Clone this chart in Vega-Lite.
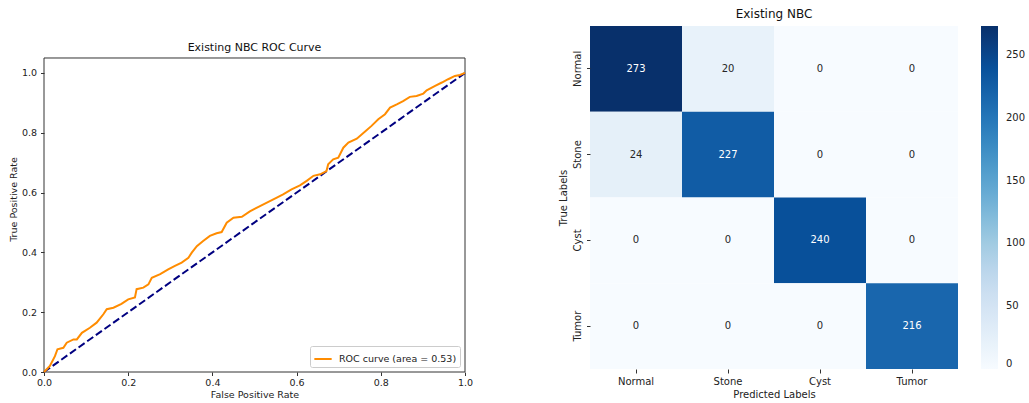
{
  "$schema": "https://vega.github.io/schema/vega-lite/v6.json",
  "padding": {"left": 8, "top": 8, "right": 4, "bottom": 2},
  "background": "white",
  "config": {
    "font": "DejaVu Sans",
    "axis": {"grid": false, "labelColor": "#222", "titleColor": "#222", "titleFontWeight": "normal", "tickColor": "#333", "domainColor": "#333"},
    "title": {"fontWeight": "normal", "color": "#111", "frame": "group"}
  },
  "spacing": 85,
  "hconcat": [
    {
      "width": 421,
      "height": 346,
      "view": {"stroke": null},
      "title": {"text": "Existing NBC ROC Curve", "fontSize": 11, "offset": -27},
      "layer": [
        {
          "data": {"values": [{}]},
          "mark": {"type": "rect", "filled": false, "stroke": "#333", "strokeWidth": 1},
          "encoding": {
            "x": {"datum": 0, "type": "quantitative"},
            "x2": {"datum": 1},
            "y": {"datum": 0, "type": "quantitative"},
            "y2": {"datum": 1.05}
          }
        },
        {
          "data": {
            "values": [
              {"fpr": 0, "tpr": 0}, {"fpr": 1, "tpr": 1}
            ]
          },
          "mark": {"type": "line", "color": "#000080", "strokeWidth": 2, "strokeDash": [7.4, 3.2]},
          "encoding": {
            "x": {"field": "fpr", "type": "quantitative"},
            "y": {"field": "tpr", "type": "quantitative"}
          }
        },
        {
          "data": {
            "values": [
              {"fpr": 0, "tpr": 0, "series": "ROC curve (area = 0.53)"},
              {"fpr": 0.014, "tpr": 0.02, "series": "ROC curve (area = 0.53)"},
              {"fpr": 0.026, "tpr": 0.053, "series": "ROC curve (area = 0.53)"},
              {"fpr": 0.032, "tpr": 0.076, "series": "ROC curve (area = 0.53)"},
              {"fpr": 0.046, "tpr": 0.081, "series": "ROC curve (area = 0.53)"},
              {"fpr": 0.054, "tpr": 0.098, "series": "ROC curve (area = 0.53)"},
              {"fpr": 0.07, "tpr": 0.109, "series": "ROC curve (area = 0.53)"},
              {"fpr": 0.078, "tpr": 0.109, "series": "ROC curve (area = 0.53)"},
              {"fpr": 0.09, "tpr": 0.131, "series": "ROC curve (area = 0.53)"},
              {"fpr": 0.109, "tpr": 0.148, "series": "ROC curve (area = 0.53)"},
              {"fpr": 0.125, "tpr": 0.165, "series": "ROC curve (area = 0.53)"},
              {"fpr": 0.141, "tpr": 0.193, "series": "ROC curve (area = 0.53)"},
              {"fpr": 0.149, "tpr": 0.21, "series": "ROC curve (area = 0.53)"},
              {"fpr": 0.165, "tpr": 0.215, "series": "ROC curve (area = 0.53)"},
              {"fpr": 0.184, "tpr": 0.228, "series": "ROC curve (area = 0.53)"},
              {"fpr": 0.2, "tpr": 0.243, "series": "ROC curve (area = 0.53)"},
              {"fpr": 0.216, "tpr": 0.249, "series": "ROC curve (area = 0.53)"},
              {"fpr": 0.22, "tpr": 0.277, "series": "ROC curve (area = 0.53)"},
              {"fpr": 0.236, "tpr": 0.282, "series": "ROC curve (area = 0.53)"},
              {"fpr": 0.248, "tpr": 0.293, "series": "ROC curve (area = 0.53)"},
              {"fpr": 0.256, "tpr": 0.315, "series": "ROC curve (area = 0.53)"},
              {"fpr": 0.276, "tpr": 0.327, "series": "ROC curve (area = 0.53)"},
              {"fpr": 0.295, "tpr": 0.343, "series": "ROC curve (area = 0.53)"},
              {"fpr": 0.311, "tpr": 0.355, "series": "ROC curve (area = 0.53)"},
              {"fpr": 0.327, "tpr": 0.366, "series": "ROC curve (area = 0.53)"},
              {"fpr": 0.343, "tpr": 0.382, "series": "ROC curve (area = 0.53)"},
              {"fpr": 0.351, "tpr": 0.399, "series": "ROC curve (area = 0.53)"},
              {"fpr": 0.363, "tpr": 0.421, "series": "ROC curve (area = 0.53)"},
              {"fpr": 0.378, "tpr": 0.438, "series": "ROC curve (area = 0.53)"},
              {"fpr": 0.394, "tpr": 0.455, "series": "ROC curve (area = 0.53)"},
              {"fpr": 0.41, "tpr": 0.464, "series": "ROC curve (area = 0.53)"},
              {"fpr": 0.422, "tpr": 0.468, "series": "ROC curve (area = 0.53)"},
              {"fpr": 0.434, "tpr": 0.499, "series": "ROC curve (area = 0.53)"},
              {"fpr": 0.45, "tpr": 0.516, "series": "ROC curve (area = 0.53)"},
              {"fpr": 0.47, "tpr": 0.519, "series": "ROC curve (area = 0.53)"},
              {"fpr": 0.489, "tpr": 0.537, "series": "ROC curve (area = 0.53)"},
              {"fpr": 0.513, "tpr": 0.555, "series": "ROC curve (area = 0.53)"},
              {"fpr": 0.533, "tpr": 0.569, "series": "ROC curve (area = 0.53)"},
              {"fpr": 0.553, "tpr": 0.583, "series": "ROC curve (area = 0.53)"},
              {"fpr": 0.568, "tpr": 0.594, "series": "ROC curve (area = 0.53)"},
              {"fpr": 0.588, "tpr": 0.611, "series": "ROC curve (area = 0.53)"},
              {"fpr": 0.608, "tpr": 0.624, "series": "ROC curve (area = 0.53)"},
              {"fpr": 0.624, "tpr": 0.639, "series": "ROC curve (area = 0.53)"},
              {"fpr": 0.64, "tpr": 0.656, "series": "ROC curve (area = 0.53)"},
              {"fpr": 0.656, "tpr": 0.661, "series": "ROC curve (area = 0.53)"},
              {"fpr": 0.671, "tpr": 0.672, "series": "ROC curve (area = 0.53)"},
              {"fpr": 0.675, "tpr": 0.695, "series": "ROC curve (area = 0.53)"},
              {"fpr": 0.687, "tpr": 0.711, "series": "ROC curve (area = 0.53)"},
              {"fpr": 0.699, "tpr": 0.717, "series": "ROC curve (area = 0.53)"},
              {"fpr": 0.711, "tpr": 0.75, "series": "ROC curve (area = 0.53)"},
              {"fpr": 0.723, "tpr": 0.767, "series": "ROC curve (area = 0.53)"},
              {"fpr": 0.743, "tpr": 0.78, "series": "ROC curve (area = 0.53)"},
              {"fpr": 0.762, "tpr": 0.803, "series": "ROC curve (area = 0.53)"},
              {"fpr": 0.778, "tpr": 0.823, "series": "ROC curve (area = 0.53)"},
              {"fpr": 0.794, "tpr": 0.845, "series": "ROC curve (area = 0.53)"},
              {"fpr": 0.81, "tpr": 0.862, "series": "ROC curve (area = 0.53)"},
              {"fpr": 0.822, "tpr": 0.884, "series": "ROC curve (area = 0.53)"},
              {"fpr": 0.838, "tpr": 0.895, "series": "ROC curve (area = 0.53)"},
              {"fpr": 0.853, "tpr": 0.906, "series": "ROC curve (area = 0.53)"},
              {"fpr": 0.869, "tpr": 0.92, "series": "ROC curve (area = 0.53)"},
              {"fpr": 0.885, "tpr": 0.923, "series": "ROC curve (area = 0.53)"},
              {"fpr": 0.901, "tpr": 0.931, "series": "ROC curve (area = 0.53)"},
              {"fpr": 0.909, "tpr": 0.942, "series": "ROC curve (area = 0.53)"},
              {"fpr": 0.929, "tpr": 0.957, "series": "ROC curve (area = 0.53)"},
              {"fpr": 0.945, "tpr": 0.968, "series": "ROC curve (area = 0.53)"},
              {"fpr": 0.96, "tpr": 0.979, "series": "ROC curve (area = 0.53)"},
              {"fpr": 0.976, "tpr": 0.99, "series": "ROC curve (area = 0.53)"},
              {"fpr": 0.988, "tpr": 0.993, "series": "ROC curve (area = 0.53)"},
              {"fpr": 1, "tpr": 1, "series": "ROC curve (area = 0.53)"}
            ]
          },
          "mark": {"type": "line", "strokeWidth": 2, "interpolate": "linear"},
          "encoding": {
            "x": {
              "field": "fpr", "type": "quantitative",
              "scale": {"domain": [0, 1], "nice": false},
              "axis": {"title": "False Positive Rate", "values": [0, 0.2, 0.4, 0.6, 0.8, 1], "format": ".1f", "domain": false, "labelFontSize": 9.5, "titleFontSize": 9.5, "tickSize": 3.5, "labelPadding": 2, "titlePadding": 2, "labelFlush": false}
            },
            "y": {
              "field": "tpr", "type": "quantitative",
              "scale": {"domain": [0, 1.157], "nice": false},
              "axis": {"title": "True Positive Rate", "values": [0, 0.2, 0.4, 0.6, 0.8, 1], "format": ".1f", "domain": false, "labelFontSize": 9.5, "titleFontSize": 9.5, "tickSize": 3.5, "labelPadding": 4, "titlePadding": 3}
            },
            "color": {
              "field": "series", "type": "nominal",
              "scale": {"range": ["#ff8c00"]},
              "legend": {"title": null, "orient": "bottom-right", "offset": 5, "padding": 3, "strokeColor": "#cccccc", "fillColor": "white", "cornerRadius": 2, "symbolType": "stroke", "symbolStrokeWidth": 2, "symbolSize": 300, "labelFontSize": 9.5, "labelColor": "#222", "labelOffset": 6}
            }
          }
        }
      ]
    },
    {
      "width": 368,
      "height": 343,
      "view": {"stroke": null},
      "title": {"text": "Existing NBC", "fontSize": 12, "offset": 5},
      "data": {
        "values": [
          {"actual": "Normal", "predicted": "Normal", "count": 273},
          {"actual": "Normal", "predicted": "Stone", "count": 20},
          {"actual": "Normal", "predicted": "Cyst", "count": 0},
          {"actual": "Normal", "predicted": "Tumor", "count": 0},
          {"actual": "Stone", "predicted": "Normal", "count": 24},
          {"actual": "Stone", "predicted": "Stone", "count": 227},
          {"actual": "Stone", "predicted": "Cyst", "count": 0},
          {"actual": "Stone", "predicted": "Tumor", "count": 0},
          {"actual": "Cyst", "predicted": "Normal", "count": 0},
          {"actual": "Cyst", "predicted": "Stone", "count": 0},
          {"actual": "Cyst", "predicted": "Cyst", "count": 240},
          {"actual": "Cyst", "predicted": "Tumor", "count": 0},
          {"actual": "Tumor", "predicted": "Normal", "count": 0},
          {"actual": "Tumor", "predicted": "Stone", "count": 0},
          {"actual": "Tumor", "predicted": "Cyst", "count": 0},
          {"actual": "Tumor", "predicted": "Tumor", "count": 216}
        ]
      },
      "encoding": {
        "x": {
          "field": "predicted", "type": "nominal",
          "sort": ["Normal", "Stone", "Cyst", "Tumor"],
          "scale": {"paddingInner": 0, "paddingOuter": 0},
          "axis": {"title": "Predicted Labels", "labelAngle": 0, "domain": false, "tickSize": 4, "labelFontSize": 10, "titleFontSize": 10, "labelPadding": 3, "titlePadding": 3}
        },
        "y": {
          "field": "actual", "type": "nominal",
          "sort": ["Normal", "Stone", "Cyst", "Tumor"],
          "scale": {"paddingInner": 0, "paddingOuter": 0},
          "axis": {"title": "True Labels", "labelAngle": -90, "labelAlign": "center", "labelBaseline": "bottom", "domain": false, "tickSize": 3.5, "labelFontSize": 10, "titleFontSize": 10, "labelPadding": 4, "titlePadding": 4}
        }
      },
      "layer": [
        {
          "mark": {"type": "rect"},
          "encoding": {
            "color": {
              "field": "count", "type": "quantitative",
              "scale": {
                "domain": [0, 34.125, 68.25, 102.375, 136.5, 170.625, 204.75, 238.875, 273],
                "range": ["#f7fbff", "#deebf7", "#c6dbef", "#9ecae1", "#6baed6", "#4292c6", "#2171b5", "#08519c", "#08306b"]
              },
              "legend": {"title": null, "direction": "vertical", "gradientLength": 343, "gradientThickness": 17, "gradientStrokeWidth": 0, "values": [0, 50, 100, 150, 200, 250], "labelFontSize": 10, "labelColor": "#222", "offset": 23, "labelOffset": 8, "labelOverlap": false}
            }
          }
        },
        {
          "mark": {"type": "text", "fontSize": 10},
          "encoding": {
            "text": {"field": "count", "type": "quantitative"},
            "color": {
              "condition": {"test": "datum.count > 136", "value": "white"},
              "value": "#262626"
            }
          }
        }
      ]
    }
  ]
}
